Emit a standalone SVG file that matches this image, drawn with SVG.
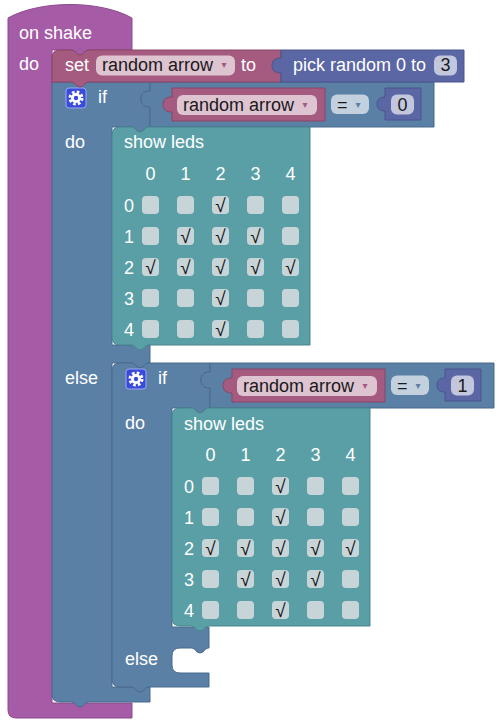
<svg xmlns="http://www.w3.org/2000/svg" width="499" height="728" viewBox="0 0 499 728">
<style>
text { font-family: "Liberation Sans", Arial, sans-serif; font-size: 18px; }
.w { fill: #ffffff; }
.f { fill: #1a1a1a; }
.c { text-anchor: middle; }
.arr { font-family: "DejaVu Sans", sans-serif; font-size: 10px; text-anchor: middle; }
.ev { fill: #A55BA5; stroke: #8C4A8C; stroke-width: 1; }
.var { fill: #A55B80; stroke: #8A4569; stroke-width: 1; }
.logic { fill: #5B80A5; stroke: #496A8C; stroke-width: 1; }
.math { fill: #5B67A5; stroke: #4A548C; stroke-width: 1; }
.basic { fill: #5A9FA6; stroke: #47858B; stroke-width: 1; }
.fv { fill: #DEC3D1; }
.fl { fill: #C3D1DE; }
.fm { fill: #C3C7DE; }
.led { fill: #C8D5D8; }
.chk { font-family: "Liberation Sans", "DejaVu Sans", sans-serif; font-size: 19px; fill: #111111; text-anchor: middle; }
.gearbox { fill: #3A4BDB; stroke: #9AA8F5; stroke-width: 1; }
</style>
<defs>
  <g id="gear">
    <rect class="gearbox" x="-10" y="-10" width="20" height="20" rx="3"/>
    <circle r="5" fill="#ffffff"/>
    <circle r="6" fill="none" stroke="#ffffff" stroke-width="3" stroke-dasharray="2.6 2.11"/>
    <circle r="2.2" fill="#3A4BDB"/>
  </g>
  <g id="ledgrid">
    <text class="w c" x="38.5" y="53">0</text>
    <text class="w c" x="73.5" y="53">1</text>
    <text class="w c" x="108.5" y="53">2</text>
    <text class="w c" x="143.5" y="53">3</text>
    <text class="w c" x="178.5" y="53">4</text>
    <text class="w c" x="17" y="84.5">0</text>
    <text class="w c" x="17" y="115.5">1</text>
    <text class="w c" x="17" y="146.5">2</text>
    <text class="w c" x="17" y="177.5">3</text>
    <text class="w c" x="17" y="208.5">4</text>
    <g class="led">
      <rect x="30" y="69" width="17" height="18" rx="4"/><rect x="65" y="69" width="17" height="18" rx="4"/><rect x="100" y="69" width="17" height="18" rx="4"/><rect x="135" y="69" width="17" height="18" rx="4"/><rect x="170" y="69" width="17" height="18" rx="4"/>
      <rect x="30" y="100" width="17" height="18" rx="4"/><rect x="65" y="100" width="17" height="18" rx="4"/><rect x="100" y="100" width="17" height="18" rx="4"/><rect x="135" y="100" width="17" height="18" rx="4"/><rect x="170" y="100" width="17" height="18" rx="4"/>
      <rect x="30" y="131" width="17" height="18" rx="4"/><rect x="65" y="131" width="17" height="18" rx="4"/><rect x="100" y="131" width="17" height="18" rx="4"/><rect x="135" y="131" width="17" height="18" rx="4"/><rect x="170" y="131" width="17" height="18" rx="4"/>
      <rect x="30" y="162" width="17" height="18" rx="4"/><rect x="65" y="162" width="17" height="18" rx="4"/><rect x="100" y="162" width="17" height="18" rx="4"/><rect x="135" y="162" width="17" height="18" rx="4"/><rect x="170" y="162" width="17" height="18" rx="4"/>
      <rect x="30" y="193" width="17" height="18" rx="4"/><rect x="65" y="193" width="17" height="18" rx="4"/><rect x="100" y="193" width="17" height="18" rx="4"/><rect x="135" y="193" width="17" height="18" rx="4"/><rect x="170" y="193" width="17" height="18" rx="4"/>
    </g>
  </g>
  <path id="ledsShape" d="M 0,8 Q 0,0 8,0 H 20 c 3,0 4,5 8,5 c 4,0 5,-5 8,-5 H 198 V 218 H 36 c -3,0 -4,5 -8,5 c -4,0 -5,-5 -8,-5 H 8 Q 0,218 0,210 Z"/>
</defs>

<g id="on-shake">
  <path class="ev" d="M 8,18 C 40,0 100,0 132,18 V 50 H 88 c -3,0 -4,5 -8,5 c -4,0 -5,-5 -8,-5 H 52 V 703 H 132 V 718 H 16 Q 8,718 8,710 Z"/>
  <text class="w" x="19" y="39">on shake</text>
  <text class="w" x="19" y="70">do</text>
</g>

<g id="if1">
  <path class="logic" d="M 52,82 H 72 c 3,0 4,5 8,5 c 4,0 5,-5 8,-5 H 150 V 91 c -5,0 -9,2 -9,8 c 0,6 4,8 9,8 V 127 H 148 c -3,0 -4,5 -8,5 c -4,0 -5,-5 -8,-5 H 112 V 345 H 150 V 363 H 148 c -3,0 -4,5 -8,5 c -4,0 -5,-5 -8,-5 H 112 V 687 H 150 V 702 H 88 c -3,0 -4,5 -8,5 c -4,0 -5,-5 -8,-5 H 60 Q 52,702 52,694 Z"/>
  <use href="#gear" x="76" y="98"/>
  <text class="w" x="98" y="103">if</text>
  <text class="w" x="65" y="148">do</text>
  <text class="w" x="65" y="384">else</text>
</g>

<g id="compare1">
  <path class="logic" d="M 150,82 H 434 V 127 H 150 V 107 c -5,0 -9,-2 -9,-8 c 0,-6 4,-8 9,-8 Z"/>
  <rect class="fl" x="331" y="94.5" width="38" height="19.5" rx="6"/>
  <text class="f" x="337" y="111">=</text>
  <text class="arr" x="358" y="108" fill="#5B80A5">▾</text>
</g>

<g id="var-get1">
  <path class="var" d="M 172,88 H 325 V 121 H 172 V 112 c -5,0 -9,-2 -9,-7.5 c 0,-5.5 4,-7.5 9,-7.5 Z"/>
  <rect class="fv" x="177" y="95" width="140" height="20" rx="6"/>
  <text class="f" x="183" y="111">random arrow</text>
  <text class="arr" x="305" y="108" fill="#A55B80">▾</text>
</g>

<g id="num0">
  <path class="math" d="M 385,88 H 421 V 120 H 385 V 111 c -5,0 -8,-2 -8,-7 c 0,-5 3,-7 8,-7 Z"/>
  <rect class="fm" x="391" y="94.5" width="23" height="20" rx="6"/>
  <text class="f c" x="402.5" y="111">0</text>
</g>

<g id="set">
  <path class="var" d="M 52,58 Q 52,50 60,50 H 72 c 3,0 4,5 8,5 c 4,0 5,-5 8,-5 H 281 V 82 H 88 c -3,0 -4,5 -8,5 c -4,0 -5,-5 -8,-5 H 52 Z"/>
  <text class="w" x="65" y="71">set</text>
  <rect class="fv" x="96" y="55.5" width="139" height="20" rx="6"/>
  <text class="f" x="102" y="71">random arrow</text>
  <text class="arr" x="224" y="68" fill="#A55B80">▾</text>
  <text class="w" x="241" y="71">to</text>
</g>

<g id="pick-random">
  <path class="math" d="M 281,50 H 464 V 82 H 281 V 73 c -5,0 -9,-2 -9,-7.5 c 0,-5.5 4,-7.5 9,-7.5 Z"/>
  <text class="w" x="293" y="71">pick random 0 to</text>
  <rect class="fm" x="434" y="55.5" width="23" height="20" rx="6"/>
  <text class="f c" x="445.5" y="71">3</text>
</g>

<g id="show-leds1" transform="translate(112,127)">
  <use href="#ledsShape" class="basic"/>
  <text class="w" x="12" y="21">show leds</text>
  <use href="#ledgrid"/>
  <text class="chk" x="108.5" y="85">√</text>
  <text class="chk" x="73.5" y="116">√</text><text class="chk" x="108.5" y="116">√</text><text class="chk" x="143.5" y="116">√</text>
  <text class="chk" x="38.5" y="147">√</text><text class="chk" x="73.5" y="147">√</text><text class="chk" x="108.5" y="147">√</text><text class="chk" x="143.5" y="147">√</text><text class="chk" x="178.5" y="147">√</text>
  <text class="chk" x="108.5" y="178">√</text>
  <text class="chk" x="108.5" y="209">√</text>
</g>

<g id="if2">
  <path class="logic" d="M 112,371 Q 112,363 120,363 H 132 c 3,0 4,5 8,5 c 4,0 5,-5 8,-5 H 210 V 372 c -5,0 -9,2 -9,8 c 0,6 4,8 9,8 V 408 H 208 c -3,0 -4,5 -8,5 c -4,0 -5,-5 -8,-5 H 172 V 627 H 209 V 648 H 208 c -3,0 -4,5 -8,5 c -4,0 -5,-5 -8,-5 H 180 Q 172,648 172,656 V 665 Q 172,673 180,673 H 209 V 687 H 148 c -3,0 -4,5 -8,5 c -4,0 -5,-5 -8,-5 H 120 Q 112,687 112,679 Z"/>
  <use href="#gear" x="136" y="379"/>
  <text class="w" x="158" y="384">if</text>
  <text class="w" x="125" y="429">do</text>
  <text class="w" x="125" y="665">else</text>
</g>

<g id="compare2">
  <path class="logic" d="M 210,363 H 494 V 408 H 210 V 388 c -5,0 -9,-2 -9,-8 c 0,-6 4,-8 9,-8 Z"/>
  <rect class="fl" x="391" y="375.5" width="38" height="19.5" rx="6"/>
  <text class="f" x="397" y="392">=</text>
  <text class="arr" x="418" y="389" fill="#5B80A5">▾</text>
</g>

<g id="var-get2">
  <path class="var" d="M 232,369 H 385 V 402 H 232 V 393 c -5,0 -9,-2 -9,-7.5 c 0,-5.5 4,-7.5 9,-7.5 Z"/>
  <rect class="fv" x="237" y="376" width="140" height="20" rx="6"/>
  <text class="f" x="243" y="392">random arrow</text>
  <text class="arr" x="365" y="389" fill="#A55B80">▾</text>
</g>

<g id="num1">
  <path class="math" d="M 445,369 H 481 V 401 H 445 V 392 c -5,0 -8,-2 -8,-7 c 0,-5 3,-7 8,-7 Z"/>
  <rect class="fm" x="451" y="375.5" width="23" height="20" rx="6"/>
  <text class="f c" x="462.5" y="392">1</text>
</g>

<g id="show-leds2" transform="translate(172,408)">
  <use href="#ledsShape" class="basic"/>
  <text class="w" x="12" y="22">show leds</text>
  <use href="#ledgrid"/>
  <text class="chk" x="108.5" y="85">√</text>
  <text class="chk" x="108.5" y="116">√</text>
  <text class="chk" x="38.5" y="147">√</text><text class="chk" x="73.5" y="147">√</text><text class="chk" x="108.5" y="147">√</text><text class="chk" x="143.5" y="147">√</text><text class="chk" x="178.5" y="147">√</text>
  <text class="chk" x="73.5" y="178">√</text><text class="chk" x="108.5" y="178">√</text><text class="chk" x="143.5" y="178">√</text>
  <text class="chk" x="108.5" y="209">√</text>
</g>

<g id="connectors"></g>
</svg>
